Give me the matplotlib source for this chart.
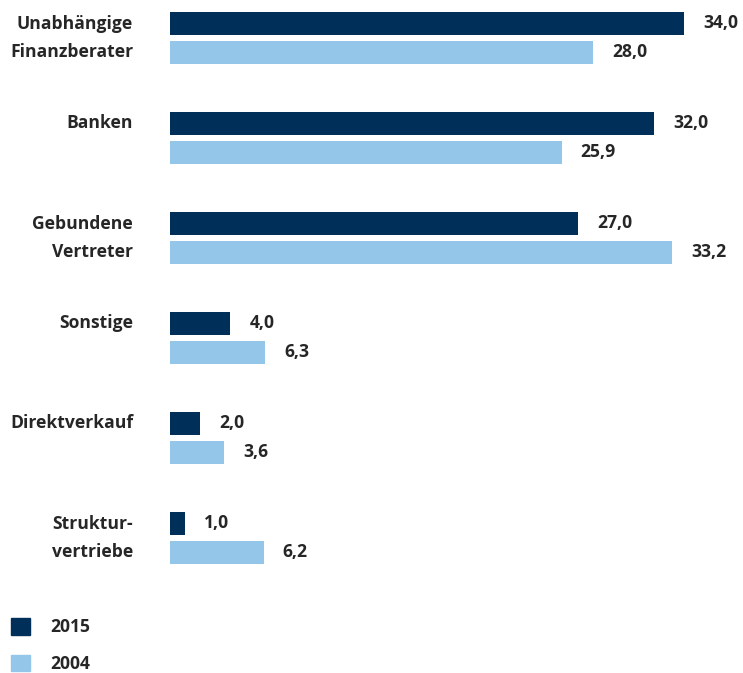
import numpy as np
import matplotlib.pyplot as plt
from matplotlib.patches import Patch

# Daten
kategorien = ['Unabhängige\nFinanzberater', 'Banken', 'Gebundene\nVertreter',
              'Sonstige', 'Direktverkauf', 'Struktur-\nvertriebe']
werte_2015 = [34.0, 32.0, 27.0, 4.0, 2.0, 1.0]
werte_2004 = [28.0, 25.9, 33.2, 6.3, 3.6, 6.2]
jahre = ['2015', '2004']

farbe_2015 = '#00305a'
farbe_2004 = '#94c6ea'
textfarbe = '#262626'
fs = 12.6

plt.rcParams['font.family'] = ['Open Sans', 'DejaVu Sans']
plt.rcParams['font.weight'] = 'bold'

fig = plt.figure(figsize=(7.43, 6.73), dpi=100)
ax = fig.add_axes([170 / 743, 0, 573 / 743, 1])

y = np.arange(len(kategorien))
off = 0.145
h = 0.23
b1 = ax.barh(y - off, werte_2015, height=h, color=farbe_2015)
b2 = ax.barh(y + off, werte_2004, height=h, color=farbe_2004)

ax.set_xlim(0, 573 / 15.12)
ax.set_ylim(6.73 - 0.38, -0.38)
ax.axis('off')

def fmt(v):
    return f'{v:.1f}'.replace('.', ',')

for barras in (b1, b2):
    for barra in barras:
        ax.annotate(fmt(barra.get_width()),
                    xy=(barra.get_width(), barra.get_y() + barra.get_height() / 2),
                    xytext=(19, 0), textcoords='offset pixels',
                    ha='left', va='center', fontsize=fs, fontweight='bold',
                    color=textfarbe)

for i, kat in enumerate(kategorien):
    ypos = i if '\n' in kat else i - off
    ax.annotate(kat, xy=(0, ypos), xytext=(-37, 0), textcoords='offset pixels',
                ha='right', va='center', ma='right', fontsize=fs,
                fontweight='bold', color=textfarbe, linespacing=1.7,
                annotation_clip=False)

handles = [Patch(color=farbe_2015), Patch(color=farbe_2004)]
leg = fig.legend(handles, jahre, loc='lower left', bbox_to_anchor=(11 / 743, 0 / 673),
                 frameon=False, fontsize=fs, handlelength=1.08, handleheight=1.08,
                 handletextpad=1.15, labelspacing=1.05, borderpad=0, borderaxespad=0)
for t in leg.get_texts():
    t.set_color(textfarbe)
    t.set_fontweight('bold')

fig.savefig('out.png', dpi=100)
